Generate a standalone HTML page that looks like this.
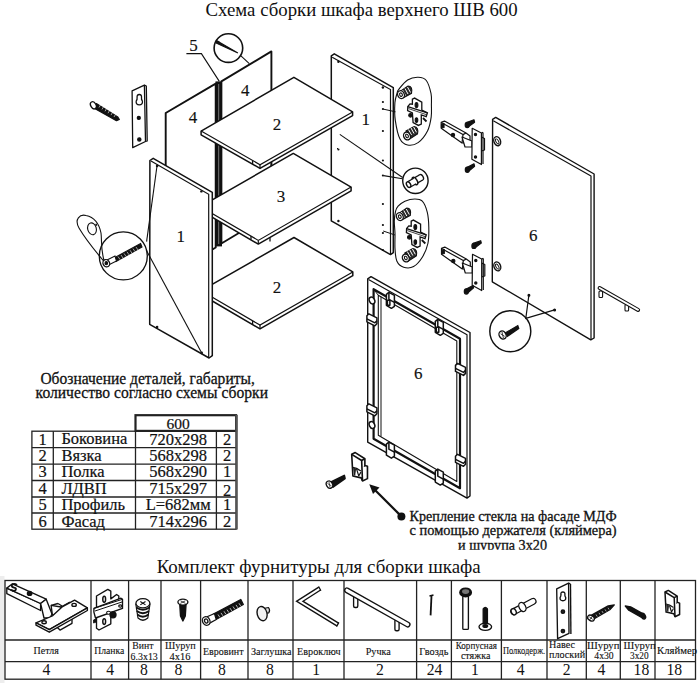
<!DOCTYPE html>
<html><head><meta charset="utf-8">
<style>
html,body{margin:0;padding:0;background:#fff;}
body{width:700px;height:683px;overflow:hidden;position:relative;}
svg{position:absolute;left:0;top:0;}
text{font-family:"Liberation Serif",serif;fill:#111;}
.s{fill:#fff;stroke:#111;stroke-width:1.5;stroke-linejoin:round;}
.l{fill:none;stroke:#111;stroke-width:1.2;}
.t{fill:none;stroke:#222;stroke-width:1.3;}
</style></head><body>
<svg width="700" height="683" viewBox="0 0 700 683">
<rect x="0" y="0" width="700" height="683" fill="#fff"/>
<rect x="0" y="576" width="4.5" height="107" fill="#ededed"/>
<!-- Title -->
<text x="205.6" y="15.8" font-size="18.8" textLength="312" lengthAdjust="spacingAndGlyphs">Схема сборки шкафа верхнего ШВ 600</text>

<!-- ============ CABINET ============ -->
<g>
<!-- back panel 4 left -->
<polygon class="s" points="165.7,113 215.7,83.6 215.7,247.5 165.7,277.5" style="stroke-width:1.9"/>
<!-- back panel 4 right -->
<polygon class="s" points="221.4,81.4 271.4,51.4 271.4,213.5 221.4,243.5" style="stroke-width:1.9"/>
<!-- profile 5 -->
<rect x="215.5" y="81.4" width="6.5" height="165" fill="#111"/>
<line x1="218.7" y1="84" x2="218.7" y2="244" stroke="#777" stroke-width="1"/>
<!-- right side panel 1 -->
<polygon class="s" points="331.3,55.8 334.3,53.8 393.3,87.7 393.3,252.6 390.5,254.6 331.3,220.8"/>
<polyline class="l" points="332.2,57.2 390.5,89.6 390.5,254"/>
<!-- shelf 2 top -->
<polygon class="s" points="201.1,131.1 293.9,77.3 352.6,111.9 352.6,115.6 260.0,168.4 201.1,134.8"/>
<polyline class="l" points="201.1,131.1 260.0,164.7 352.6,111.9"/>
<line class="l" x1="260" y1="164.7" x2="260" y2="168.39999999999998"/>
<!-- shelf 3 -->
<polygon class="s" points="200.5,206.7 293.3,153.4 351.1,187.1 351.1,190.8 258.3,244.1 200.5,210.4"/>
<polyline class="l" points="200.5,206.7 258.3,240.4 351.1,187.1"/>
<line class="l" x1="258.3" y1="240.4" x2="258.3" y2="244.1"/>
<!-- shelf 2 bottom -->
<polygon class="s" points="201.2,290.7 294.0,237.5 352.8,271.9 352.8,275.7 260.0,328.9 201.2,294.5"/>
<polyline class="l" points="201.2,290.7 260.0,325.1 352.8,271.9"/>
<line class="l" x1="260" y1="325.1" x2="260" y2="328.90000000000003"/>
<!-- left side panel 1 -->
<polygon class="s" points="149.9,160.5 153.2,158.3 212.3,192.3 212.3,355.7 209.1,358 149.7,324.3"/>
<polyline class="l" points="151,161 208.7,194.3 208.7,357.5"/>
</g>

<g fill="#111">
<circle cx="157.1" cy="166" r="1.3"/><circle cx="157.1" cy="327.1" r="1.3"/><circle cx="201.7" cy="352.9" r="1.3"/><circle cx="201.4" cy="191.4" r="1.2"/>
</g>
<g stroke="#111" stroke-width="1.3">
<line x1="252.6" y1="160.5" x2="252.6" y2="164.2"/><line x1="271.4" y1="162" x2="271.4" y2="166"/>
<line x1="251" y1="236" x2="251" y2="239.5"/><line x1="270" y1="237.5" x2="270" y2="241.5"/>
<line x1="252.6" y1="320.9" x2="252.6" y2="324.6"/>
</g>
<!-- ===== extra drawing ===== -->
<g stroke="#111" stroke-width="1.4" stroke-linejoin="round" fill="#fff">
<!-- door 6 -->
<polygon points="492.6,119.3 495.7,117.4 594.1,174 594.1,338 590.8,339.8 492.3,281.8"/>
<polyline points="493.3,120.8 591,176.1 591,339.5" fill="none" stroke-width="1.2"/>
<ellipse cx="497.2" cy="141.2" rx="3.3" ry="4.6" transform="rotate(-20 497.2 141.2)"/>
<ellipse cx="497.2" cy="141.4" rx="1.3" ry="2.8" transform="rotate(-30 497.2 141.4)" stroke-width="0.9"/>
<ellipse cx="497.3" cy="266.4" rx="3.3" ry="4.6" transform="rotate(-20 497.3 266.4)"/>
<ellipse cx="497.3" cy="266.6" rx="1.3" ry="2.8" transform="rotate(-30 497.3 266.6)" stroke-width="0.9"/>
</g>

<!-- door handle -->
<g stroke="#111" fill="#fff" stroke-width="1.1">
<rect x="599" y="291" width="3.6" height="6.5" rx="1"/>
<rect x="625" y="304.5" width="3.6" height="6.5" rx="1"/>
<path d="M599.6,288 L638.1,309.9" fill="none" stroke="#111" stroke-width="4" stroke-linecap="round"/>
<path d="M599.6,288 L638.1,309.9" fill="none" stroke="#fff" stroke-width="1.8" stroke-linecap="round"/>
</g>

<!-- door screw magnifier -->
<g stroke="#111" fill="none" stroke-width="1.2">
<circle cx="510.3" cy="331.2" r="20.5" fill="#fff" stroke-width="1.45"/>
<polyline points="528.9,295.2 525.8,318.3 554.6,309.9"/>
<circle cx="528.9" cy="295.2" r="0.9" fill="#111"/>
<circle cx="554.6" cy="309.9" r="0.9" fill="#111"/>
<polygon points="505.5,332.8 517.8,325.6 518.8,328.4 507.5,336.3" fill="#111"/>
<ellipse cx="502.6" cy="335" rx="3.4" ry="4.2" transform="rotate(-30 502.6 335)" fill="#fff" stroke-width="1.4"/>
<path d="M500.6,333.8 l4,2.5 M502,332 l1.4,6" stroke-width="0.8"/>
</g>

<!-- hinges -->
<g stroke="#111" stroke-width="1.2" stroke-linejoin="round" fill="#fff">
<polygon points="441.2,122.4 444.5,121.1 466,133 470,136 470,143 462,143 441.2,128.3"/>
<polyline points="441.2,122.4 463,134.6 466,133" fill="none"/>
<line x1="463" y1="134.6" x2="462" y2="143"/>
<polygon points="441.5,124.5 444,123.5 444,127.5 441.5,128" fill="#111"/>
<circle cx="453" cy="135" r="1.6" fill="#111"/>
<polygon points="462,137 472,141 472,147 465,147"/>
<polygon points="481.4,137 484.5,138.5 484.5,150 481.4,151"/>
<polygon points="472.2,128.3 481.4,133 481.4,164.6 471.9,159.3"/>
<line x1="481.4" y1="133" x2="483" y2="132.4"/>
<line x1="483" y1="132.4" x2="483" y2="164"/>
<circle cx="475.5" cy="134.5" r="1.1" fill="#111"/>
<circle cx="475.5" cy="157" r="1.1" fill="#111"/>
<polygon points="466.5,122.5 474,119.8 474.6,122.2 468,127" fill="#111"/>
<ellipse cx="467.2" cy="125" rx="2" ry="2.6" fill="#111"/>
<polygon points="466.8,167.6 474,163.8 474.6,166.2 468.3,171.5" fill="#111"/>
<ellipse cx="467.3" cy="169.8" rx="2" ry="2.6" fill="#111"/>
</g>
<g transform="translate(0.3,126)"><g stroke="#111" stroke-width="1.2" stroke-linejoin="round" fill="#fff">
<polygon points="441.2,122.4 444.5,121.1 466,133 470,136 470,143 462,143 441.2,128.3"/>
<polyline points="441.2,122.4 463,134.6 466,133" fill="none"/>
<line x1="463" y1="134.6" x2="462" y2="143"/>
<polygon points="441.5,124.5 444,123.5 444,127.5 441.5,128" fill="#111"/>
<circle cx="453" cy="135" r="1.6" fill="#111"/>
<polygon points="462,137 472,141 472,147 465,147"/>
<polygon points="481.4,137 484.5,138.5 484.5,150 481.4,151"/>
<polygon points="472.2,128.3 481.4,133 481.4,164.6 471.9,159.3"/>
<line x1="481.4" y1="133" x2="483" y2="132.4"/>
<line x1="483" y1="132.4" x2="483" y2="164"/>
<circle cx="475.5" cy="134.5" r="1.1" fill="#111"/>
<circle cx="475.5" cy="157" r="1.1" fill="#111"/>
<g transform="translate(6.4,-5.1)"><polygon points="466.5,122.5 474,119.8 474.6,122.2 468,127" fill="#111"/>
<ellipse cx="467.2" cy="125" rx="2" ry="2.6" fill="#111"/></g>
<g transform="translate(-1.3,-4.3)"><polygon points="466.8,167.6 474,163.8 474.6,166.2 468.3,171.5" fill="#111"/>
<ellipse cx="467.3" cy="169.8" rx="2" ry="2.6" fill="#111"/></g>
</g></g>

<!-- blobs -->
<g stroke="#111" stroke-width="1.1" fill="none">
<path d="M398.8,89.3 C400.6,87.1 404.4,82.0 407.6,80.0 C410.8,78.0 415.0,77.2 418.1,77.3 C421.2,77.4 424.2,77.8 426.3,80.5 C428.4,83.2 430.1,89.3 431.0,93.4 C431.9,97.5 431.4,101.1 431.4,105.0 C431.4,108.9 431.8,112.5 431.2,116.8 C430.6,121.1 429.7,126.6 427.5,130.9 C425.3,135.2 421.4,140.2 418.1,142.6 C414.8,144.9 410.6,145.6 407.6,145.0 C404.6,144.4 402.1,143.2 400.0,139.1 C397.9,135.0 396.2,126.5 395.3,120.4 C394.4,114.4 394.6,107.3 394.9,102.8 C395.2,98.3 396.4,95.7 397.0,93.4 C397.6,91.2 397.0,91.5 398.8,89.3 Z" fill="#fff"/>
<!-- dowel cyl 1 -->
<path d="M400,91.5 L408,86 Q413,86 411.5,93.5 L403,98 Z" fill="#2a2a2a"/>
<path d="M402.5,90 l3,5.5 M405,88.5 l3,5.5 M407.5,87 l3,5.5" stroke="#fff" stroke-width="1"/>
<ellipse cx="401" cy="94.6" rx="3.3" ry="4" transform="rotate(-25 401 94.6)" fill="#fff" stroke-width="1.3"/>
<ellipse cx="401" cy="94.6" rx="1.3" ry="1.8" transform="rotate(-25 401 94.6)"/>
<!-- mount plate -->
<polygon points="412.4,99.1 414.6,98.1 421.8,102.2 421.8,110 427.4,112.9 426.2,116.7 421.3,115 421.3,124 418.4,125.4 413.1,122.5 412.4,113 407.6,110.5 407.8,106.6 410,103.9 412.4,104.2" fill="#fff" stroke-width="1.3"/>
<line x1="407.8" y1="106.6" x2="427.4" y2="112.9" stroke-width="1.2"/>
<line x1="408.5" y1="108.6" x2="426.8" y2="114.8" stroke-width="0.8"/>
<ellipse cx="416.5" cy="105.1" rx="1.4" ry="2.6" fill="#111"/>
<ellipse cx="416.5" cy="120.1" rx="1.3" ry="2.3" fill="#111"/>
<circle cx="410.5" cy="115.3" r="1.8" fill="#111"/>
<line x1="423" y1="118" x2="426.5" y2="121.5" stroke-width="1.8"/>
<!-- dowel cyl 2 -->
<path d="M406,131 L414,126.5 Q419,127 417.5,134 L409,139.5 Z" fill="#2a2a2a"/>
<path d="M408.5,129.5 l3,5.5 M411,128 l3,5.5 M413.5,126.8 l3,5.5" stroke="#fff" stroke-width="1"/>
<ellipse cx="407" cy="136" rx="3.3" ry="4" transform="rotate(-25 407 136)" fill="#fff" stroke-width="1.3"/>
<ellipse cx="407" cy="136" rx="1.3" ry="1.8" transform="rotate(-25 407 136)"/>
</g>
<g transform="translate(-1.2,122)"><g stroke="#111" stroke-width="1.1" fill="none">
<path d="M399.3,84.2 C400.9,82.5 403.3,80.4 406.1,79.2 C408.9,78.0 413.2,77.0 416.1,77.0 C419.0,77.0 421.4,77.0 423.5,79.2 C425.6,81.4 427.4,86.0 428.5,90.4 C429.6,94.8 429.9,100.1 430.0,105.3 C430.1,110.5 430.2,116.5 429.1,121.5 C428.0,126.5 425.9,131.4 423.5,135.2 C421.1,139.0 417.9,142.8 414.8,144.5 C411.7,146.2 407.7,146.1 404.9,145.2 C402.1,144.3 399.4,142.0 398.0,138.9 C396.6,135.8 396.5,131.1 396.2,126.5 C395.9,122.0 396.3,116.2 396.2,111.6 C396.1,107.0 395.4,102.8 395.5,99.1 C395.6,95.4 396.2,91.7 396.8,89.2 C397.4,86.7 397.8,85.9 399.3,84.2 Z" fill="#fff"/>
<!-- dowel cyl 1 -->
<path d="M400,91.5 L408,86 Q413,86 411.5,93.5 L403,98 Z" fill="#2a2a2a"/>
<path d="M402.5,90 l3,5.5 M405,88.5 l3,5.5 M407.5,87 l3,5.5" stroke="#fff" stroke-width="1"/>
<ellipse cx="401" cy="94.6" rx="3.3" ry="4" transform="rotate(-25 401 94.6)" fill="#fff" stroke-width="1.3"/>
<ellipse cx="401" cy="94.6" rx="1.3" ry="1.8" transform="rotate(-25 401 94.6)"/>
<!-- mount plate -->
<polygon points="412.4,99.1 414.6,98.1 421.8,102.2 421.8,110 427.4,112.9 426.2,116.7 421.3,115 421.3,124 418.4,125.4 413.1,122.5 412.4,113 407.6,110.5 407.8,106.6 410,103.9 412.4,104.2" fill="#fff" stroke-width="1.3"/>
<line x1="407.8" y1="106.6" x2="427.4" y2="112.9" stroke-width="1.2"/>
<line x1="408.5" y1="108.6" x2="426.8" y2="114.8" stroke-width="0.8"/>
<ellipse cx="416.5" cy="105.1" rx="1.4" ry="2.6" fill="#111"/>
<ellipse cx="416.5" cy="120.1" rx="1.3" ry="2.3" fill="#111"/>
<circle cx="410.5" cy="115.3" r="1.8" fill="#111"/>
<line x1="423" y1="118" x2="426.5" y2="121.5" stroke-width="1.8"/>
<!-- dowel cyl 2 -->
<path d="M406,131 L414,126.5 Q419,127 417.5,134 L409,139.5 Z" fill="#2a2a2a"/>
<path d="M408.5,129.5 l3,5.5 M411,128 l3,5.5 M413.5,126.8 l3,5.5" stroke="#fff" stroke-width="1"/>
<ellipse cx="407" cy="136" rx="3.3" ry="4" transform="rotate(-25 407 136)" fill="#fff" stroke-width="1.3"/>
<ellipse cx="407" cy="136" rx="1.3" ry="1.8" transform="rotate(-25 407 136)"/>
</g></g>

<!-- dowel magnifier -->
<g stroke="#111" stroke-width="1.1" fill="none">
<polyline points="383.6,175.6 402.4,178.7"/>
<polyline points="339.8,134.4 402.6,177.5"/>
<circle cx="415.4" cy="180.8" r="12.7" fill="#fff" stroke-width="1.4"/>
<ellipse cx="421.2" cy="177.4" rx="2" ry="3" transform="rotate(-30.3 421.2 177.4)" fill="#fff" stroke-width="1.3"/>
<polygon points="413.5,178.4 419.7,174.8 421.2,177.4 422.7,180 416.5,183.6" fill="#fff" stroke="none"/>
<polyline points="413.5,178.4 419.7,174.8" stroke-width="1.3"/>
<polyline points="416.5,183.6 422.7,180" stroke-width="1.3"/>
<ellipse cx="415" cy="181" rx="2" ry="4.1" transform="rotate(-30.3 415 181)" fill="#fff" stroke-width="1.5"/>
<polygon points="407.1,182 413.5,178.4 416.5,183.6 410.1,187.2" fill="#fff" stroke="none"/>
<polyline points="407.1,182 413.8,178.2" stroke-width="1.3"/>
<polyline points="410.1,187.2 416.2,183.8" stroke-width="1.3"/>
<ellipse cx="408.6" cy="184.6" rx="1.9" ry="3" transform="rotate(-30.3 408.6 184.6)" fill="#fff" stroke-width="1.4"/>
</g>
<!-- leader lines right panel -->
<g stroke="#111" stroke-width="1" fill="none">
<line x1="383.2" y1="109.1" x2="395.5" y2="111.8"/>
<line x1="383.2" y1="231" x2="395" y2="235"/>
<line x1="338" y1="148" x2="337" y2="149"/>
</g>
<!-- holes right panel -->
<g fill="#111">
<circle cx="382.9" cy="87.5" r="1.2"/><circle cx="382.9" cy="102" r="1.1"/><circle cx="382.9" cy="109" r="1.1"/>
<circle cx="382.9" cy="131" r="1.1"/><circle cx="382.9" cy="160.5" r="1.1"/><circle cx="382.9" cy="175.5" r="1.1"/>
<circle cx="382.9" cy="204" r="1.1"/><circle cx="382.9" cy="225" r="1.1"/><circle cx="382.9" cy="233" r="1.1"/><circle cx="382.9" cy="250" r="1.1"/>
<circle cx="338.4" cy="61.7" r="1.2"/><circle cx="338.4" cy="149.5" r="1.1"/><circle cx="338.4" cy="221" r="1.2"/>
</g>

<!-- ===== glass frame facade ===== -->
<g stroke="#111" stroke-linejoin="round" fill="none">
<polygon points="367.7,278.8 371,276.6 470,332.5 470,496 467,498.1 367.7,442.2" fill="#fff" stroke-width="1.4"/>
<polyline points="368.5,279.4 467,334.7 467,498" stroke-width="1.2"/>
<!-- groove outer dark -->
<polygon points="373.6,289.2 460,338.7 460,488.3 373.6,438.7" stroke-width="2.2"/>
<!-- groove inner light -->
<polygon points="378.3,295.3 456.8,340.9 456.8,481.5 378.3,435.3" stroke-width="1.1"/>
<polyline points="381,296.8 381,436.5" stroke-width="1"/>
<polyline points="373.6,289.2 378.3,295.3" stroke-width="1"/>
</g>
<g stroke="#111" stroke-width="1.1" fill="#fff" stroke-linejoin="round">
</g>
<g stroke="#111" stroke-width="1.5" fill="#fff" stroke-linejoin="round">
<!-- top clips -->
<g transform="translate(390.4,300.3)"><polygon points="-4,-6 -1.5,-8 4,-5 4,6 1,8 -4,5"/><polyline points="-1.5,-8 -1.5,-1 4,2" fill="none"/><rect x="-3" y="0" width="2.5" height="5" fill="#fff"/></g>
<g transform="translate(439.3,327.3)"><polygon points="-4,-6 -1.5,-8 4,-5 4,6 1,8 -4,5"/><polyline points="-1.5,-8 -1.5,-1 4,2" fill="none"/><rect x="-3" y="0" width="2.5" height="5" fill="#fff"/></g>
<!-- bottom clips -->
<g transform="translate(390.4,450.2)"><polygon points="-4,-6 -1.5,-8 4,-5 4,6 1,8 -4,5"/><polyline points="-1.5,-8 -1.5,-1 4,2" fill="none"/></g>
<g transform="translate(439.3,477.1)"><polygon points="-4,-6 -1.5,-8 4,-5 4,6 1,8 -4,5"/><polyline points="-1.5,-8 -1.5,-1 4,2" fill="none"/></g>
<!-- left clips -->
<g transform="translate(370.9,319.8)"><polygon points="-4,-4 -2,-6 6,-2 6,4 4,6 -4,2"/><polyline points="-4,-1 4,3 6,1" fill="none"/></g>
<g transform="translate(370.9,409.8)"><polygon points="-4,-4 -2,-6 6,-2 6,4 4,6 -4,2"/><polyline points="-4,-1 4,3 6,1" fill="none"/></g>
<!-- right clips -->
<g transform="translate(459.5,369.4)"><polygon points="-4,-4 -2,-6 6,-2 6,4 4,6 -4,2"/><polyline points="-4,-1 4,3 6,1" fill="none"/></g>
<g transform="translate(459.5,460.3)"><polygon points="-4,-4 -2,-6 6,-2 6,4 4,6 -4,2"/><polyline points="-4,-1 4,3 6,1" fill="none"/></g>
<ellipse cx="372" cy="300.5" rx="2.6" ry="3.6" transform="rotate(-25 372 300.5)"/>
<ellipse cx="372" cy="425" rx="2.6" ry="3.6" transform="rotate(-25 372 425)"/>
</g>

<!-- klaymer + screw near frame -->
<g stroke="#111" stroke-width="1.7" fill="#fff" stroke-linejoin="round">
<g transform="translate(351.7,452.6) scale(1.08) translate(-665,-590.4)"><g stroke-width="1.5">
<polygon points="665,592 668.3,590.4 677.2,596.1 677.2,602.3 679.6,603.1 679.6,614.5 675,616.7 673.8,613.8 666.1,612.1"/>
<polyline points="665,592 674.2,597.7 675,616.7" fill="none"/>
<line x1="674.2" y1="597.7" x2="677.2" y2="596.1"/>
<line x1="677.2" y1="602.3" x2="676.5" y2="603.5" stroke-width="1"/>
<polyline points="666,604 669.5,605 673.5,607.5" fill="none" stroke-width="1.2"/>
<polygon points="666.8,605 668.6,605.5 667.8,611.5" fill="#333" stroke-width="0.8"/>
<polyline points="669.5,605.5 671.5,612 673.5,608.5" fill="none" stroke-width="1.1"/>
</g></g>
<polygon points="331,482 344.3,475.5 345,478.5 333,487" fill="#111"/>
<ellipse cx="329.5" cy="484.6" rx="3" ry="3.8" transform="rotate(-30 329.5 484.6)" fill="#fff" stroke-width="1.3"/>
<path d="M327.5,483.5 l4,2.4 M329,482 l1,5.5" fill="none" stroke-width="0.7"/>
</g>

<!-- left side hardware: hanging plate + screw -->
<g stroke="#111" stroke-width="1.3" fill="#fff" stroke-linejoin="round">
<polygon points="132.1,90.8 144.4,85.1 145.5,141.5 132.7,147.6"/>
<polyline points="144.4,85.1 146.3,86 147.2,141 145.5,141.5" fill="none"/>
<path d="M139.3,94.5 q-2.5,0 -2.2,3 q0.3,1.8 -0.9,3.5 q-0.5,3.8 3.1,3.8 q3.6,0 3.1,-3.8 q-1.2,-1.7 -0.9,-3.5 q0.3,-3 -2.2,-3 Z" fill="#fff"/>
<circle cx="138.8" cy="117.9" r="1.5" fill="#111"/>
<circle cx="139.3" cy="139.4" r="1.6" fill="#111"/>
<polygon points="96.3,103.6 117.8,117 119.3,119.5 116.5,120.7 94.7,108.4" fill="#111"/>
<path d="M99,107.5 l1.6,-2.8 M102,109.4 l1.6,-2.8 M105,111.3 l1.6,-2.8 M108,113.2 l1.6,-2.8 M111,115.1 l1.6,-2.8 M114,117 l1.4,-2.4" stroke="#fff" stroke-width="0.6" fill="none"/>
<ellipse cx="93.4" cy="105.3" rx="2.6" ry="3.8" transform="rotate(-30 93.4 105.3)" fill="#fff" stroke-width="1.4"/>
</g>

<!-- left magnifier & loop -->
<g stroke="#111" stroke-width="1.1" fill="none">
<path d="M104.5,262 C96,252 86,240 79,228 C74,219 80,214 86,215.5 C93,217 99,223 101,233 C102,240 100.5,250 104.5,262"/>
<ellipse cx="92" cy="228.8" rx="4.3" ry="6" transform="rotate(-15 92 228.8)"/>
<line x1="95.5" y1="225" x2="97" y2="224.5" stroke-width="2"/>
<circle cx="123.3" cy="255.9" r="24" stroke-width="1.35"/>
<line x1="157" y1="166" x2="146.6" y2="241.6"/>
<line x1="146.2" y1="250" x2="201.7" y2="352.9"/>
<polygon points="114,258 140.6,243.5 142,247 116,261.5" fill="#111"/>
<path d="M118,256.5 l2,3 M121,255 l2,3 M124,253.4 l2,3 M127,251.8 l2,3 M130,250.2 l2,3 M133,248.6 l2,3 M136,247 l2,3" stroke="#fff" stroke-width="0.6"/>
<polygon points="107,260 115,256 116.5,261 108.5,265" fill="#fff"/>
<ellipse cx="106.3" cy="263.2" rx="3.2" ry="3.8" transform="rotate(-30 106.3 263.2)" fill="#fff" stroke-width="1.3"/>
<ellipse cx="106.3" cy="263.2" rx="1.3" ry="1.6" fill="#111"/>
</g>

<!-- 5 leader & nail magnifier -->
<g stroke="#111" stroke-width="1.1" fill="none">
<polyline points="186.4,53.6 201.4,53.6 219.3,81.4"/>
<circle cx="228.4" cy="48.1" r="14.3" fill="#fff" stroke-width="1.6"/>
<line x1="240.7" y1="55.7" x2="249.3" y2="63.6"/>
<polygon points="216.4,40.6 237.9,52.9 216,43" fill="#111"/>
<line x1="217" y1="41.5" x2="219" y2="42.6" stroke-width="2.4"/>
</g>

<!-- labels -->
<g font-size="17" text-anchor="middle" style="stroke:#111;stroke-width:0.15">
<text x="193" y="122.9">4</text>
<text x="245.3" y="96.1">4</text>
<text x="276.9" y="129.7">2</text>
<text x="281" y="202">3</text>
<text x="277.1" y="292.9">2</text>
<text x="180.8" y="241.7">1</text>
<text x="365.8" y="125.4">1</text>
<text x="418.3" y="378.9">6</text>
<text x="533.3" y="241.4">6</text>
<text x="193.4" y="51.1">5</text>
</g>

<!-- ============ TEXT BLOCK: parts ============ -->
<text x="40.4" y="384.2" font-size="17" style="stroke:#111;stroke-width:0.3" textLength="214.4" lengthAdjust="spacingAndGlyphs">Обозначение деталей, габариты,</text>
<text x="35.6" y="397.8" font-size="17" style="stroke:#111;stroke-width:0.3" textLength="232.4" lengthAdjust="spacingAndGlyphs">количество согласно схемы сборки</text>

<g class="t">
<rect x="135.5" y="415.2" width="100.6" height="15.7" stroke-width="2.2"/>
<rect x="31.9" y="431.2" width="204.2" height="98" />
<line x1="31.9" y1="447.7" x2="236" y2="447.7"/>
<line x1="31.9" y1="464.1" x2="236" y2="464.1"/>
<line x1="31.9" y1="480.5" x2="236" y2="480.5"/>
<line x1="31.9" y1="497" x2="236" y2="497"/>
<line x1="31.9" y1="513" x2="236" y2="513"/>
<line x1="53.3" y1="431.2" x2="53.3" y2="529.2"/>
<line x1="135.5" y1="431.2" x2="135.5" y2="529.2"/>
<line x1="216.4" y1="431.2" x2="216.4" y2="529.2"/>
<line x1="236.6" y1="415" x2="236.6" y2="529.5" stroke="#555" stroke-width="2.4"/>
</g>
<g font-size="16.5" style="stroke:#111;stroke-width:0.2">
<text x="178" y="428.6" text-anchor="middle" font-size="15.5">600</text>
<text x="42.5" y="444.5" text-anchor="middle">1</text>
<text x="42.5" y="461" text-anchor="middle">2</text>
<text x="42.5" y="477.4" text-anchor="middle">3</text>
<text x="42.5" y="493.8" text-anchor="middle">4</text>
<text x="42.5" y="510.3" text-anchor="middle">5</text>
<text x="42.5" y="526.5" text-anchor="middle">6</text>
<text x="61.4" y="444.4">Боковина</text>
<text x="61.4" y="461">Вязка</text>
<text x="61.4" y="477.4">Полка</text>
<text x="61.4" y="493.8">ЛДВП</text>
<text x="61.4" y="510.3">Профиль</text>
<text x="61.4" y="526.5">Фасад</text>
<text x="178.2" y="444.5" text-anchor="middle">720x298</text>
<text x="178.2" y="461" text-anchor="middle">568x298</text>
<text x="178.2" y="477.4" text-anchor="middle">568x290</text>
<text x="178.2" y="493.8" text-anchor="middle">715x297</text>
<text x="178.2" y="510.3" text-anchor="middle">L=682мм</text>
<text x="178.2" y="526.5" text-anchor="middle">714x296</text>
<text x="227.2" y="444.5" text-anchor="middle">2</text>
<text x="227.2" y="461" text-anchor="middle">2</text>
<text x="227.2" y="477.4" text-anchor="middle">1</text>
<text x="227.2" y="495.5" text-anchor="middle">2</text>
<text x="227.2" y="510.3" text-anchor="middle">1</text>
<text x="227.2" y="526.5" text-anchor="middle">2</text>
</g>

<!-- annotation -->
<line x1="401.4" y1="516.4" x2="374" y2="489" stroke="#111" stroke-width="2.2"/>
<polygon points="369.3,484.3 379.5,487.5 373,494" fill="#111"/>
<circle cx="401.4" cy="516.4" r="4" fill="#111"/>
<text x="409.6" y="521" font-size="14.8" style="stroke:#111;stroke-width:0.3" textLength="207" lengthAdjust="spacingAndGlyphs">Крепление стекла на фасаде МДФ</text>
<text x="409.6" y="535" font-size="14.8" style="stroke:#111;stroke-width:0.3" textLength="207" lengthAdjust="spacingAndGlyphs">с помощью держателя (кляймера)</text>
<svg x="0" y="0" width="700" height="549.7" overflow="hidden"><text x="458" y="549.5" font-size="14.8" style="stroke:#111;stroke-width:0.3" textLength="89" lengthAdjust="spacingAndGlyphs">и шурупа 3x20</text></svg>

<!-- ============ HARDWARE TABLE ============ -->
<text x="156.7" y="572.6" font-size="18.9" textLength="324" lengthAdjust="spacingAndGlyphs">Комплект фурнитуры для сборки шкафа</text>
<g class="t">
<rect x="5" y="580.5" width="690.5" height="98.7"/>
<line x1="5" y1="640" x2="695.5" y2="640"/>
<line x1="5" y1="661.7" x2="695.5" y2="661.7"/>
<line x1="91" y1="580.5" x2="91" y2="679.2"/>
<line x1="128.6" y1="580.5" x2="128.6" y2="679.2"/>
<line x1="161" y1="580.5" x2="161" y2="679.2"/>
<line x1="200.6" y1="580.5" x2="200.6" y2="679.2"/>
<line x1="248" y1="580.5" x2="248" y2="679.2"/>
<line x1="293" y1="580.5" x2="293" y2="679.2"/>
<line x1="344" y1="580.5" x2="344" y2="679.2"/>
<line x1="416.6" y1="580.5" x2="416.6" y2="679.2"/>
<line x1="451.4" y1="580.5" x2="451.4" y2="679.2"/>
<line x1="501.4" y1="580.5" x2="501.4" y2="679.2"/>
<line x1="547" y1="580.5" x2="547" y2="679.2"/>
<line x1="586.3" y1="580.5" x2="586.3" y2="679.2"/>
<line x1="620.3" y1="580.5" x2="620.3" y2="679.2"/>
<line x1="655" y1="580.5" x2="655" y2="679.2"/>
</g>
<g font-size="10.5" font-weight="normal" style="stroke:#111;stroke-width:0.12">
<text x="33.5" y="654.3" textLength="25.3" lengthAdjust="spacingAndGlyphs">Петля</text>
<text x="94.2" y="654.3" textLength="30.1" lengthAdjust="spacingAndGlyphs">Планка</text>
<text x="132.3" y="649.2" textLength="21.2" lengthAdjust="spacingAndGlyphs">Винт</text>
<text x="130.6" y="660.1" textLength="27.2" lengthAdjust="spacingAndGlyphs">6.3x13</text>
<text x="164.9" y="649.1" textLength="30.9" lengthAdjust="spacingAndGlyphs">Шуруп</text>
<text x="169.5" y="659.9" textLength="20.9" lengthAdjust="spacingAndGlyphs">4x16</text>
<text x="202.9" y="654.5" textLength="40.7" lengthAdjust="spacingAndGlyphs">Евровинт</text>
<text x="250.9" y="654.5" textLength="40.7" lengthAdjust="spacingAndGlyphs">Заглушка</text>
<text x="297.1" y="654.5" textLength="43.4" lengthAdjust="spacingAndGlyphs">Евроключ</text>
<text x="365.7" y="654.5" textLength="25.2" lengthAdjust="spacingAndGlyphs">Ручка</text>
<text x="419.2" y="654.5" textLength="29.3" lengthAdjust="spacingAndGlyphs">Гвоздь</text>
<text x="455.7" y="648.9" textLength="41.2" lengthAdjust="spacingAndGlyphs">Корпусная</text>
<text x="460.9" y="658.6" textLength="29.5" lengthAdjust="spacingAndGlyphs">стяжка</text>
<text x="502.9" y="653.7" textLength="42.2" lengthAdjust="spacingAndGlyphs">Полкодерж.</text>
<text x="549.1" y="648.0" textLength="25.8" lengthAdjust="spacingAndGlyphs">Навес</text>
<text x="549.1" y="658.3" textLength="36.0" lengthAdjust="spacingAndGlyphs">плоский</text>
<text x="587.1" y="648.9" textLength="32.3" lengthAdjust="spacingAndGlyphs">Шуруп</text>
<text x="594.3" y="659.4" textLength="19.4" lengthAdjust="spacingAndGlyphs">4x30</text>
<text x="623.4" y="648.9" textLength="32.3" lengthAdjust="spacingAndGlyphs">Шуруп</text>
<text x="630.0" y="659.4" textLength="18.6" lengthAdjust="spacingAndGlyphs">3x20</text>
<text x="657.1" y="653.7" textLength="40.0" lengthAdjust="spacingAndGlyphs">Кляймер</text>
</g>
<g font-size="15.7">
<text x="46.5" y="675.3" text-anchor="middle">4</text>
<text x="110.2" y="675.3" text-anchor="middle">4</text>
<text x="144" y="675.3" text-anchor="middle">8</text>
<text x="178.5" y="675.3" text-anchor="middle">8</text>
<text x="221.9" y="675.3" text-anchor="middle">8</text>
<text x="270" y="675.3" text-anchor="middle">8</text>
<text x="316.1" y="675.3" text-anchor="middle">1</text>
<text x="379.9" y="675.3" text-anchor="middle">2</text>
<text x="434.6" y="675.3" text-anchor="middle">24</text>
<text x="475" y="675.3" text-anchor="middle">1</text>
<text x="520.6" y="675.3" text-anchor="middle">4</text>
<text x="566.6" y="675.3" text-anchor="middle">2</text>
<text x="601.4" y="675.3" text-anchor="middle">4</text>
<text x="641.4" y="675.3" text-anchor="middle">18</text>
<text x="674.3" y="675.3" text-anchor="middle">18</text>
</g>
<!-- hardware icons -->
<g stroke="#111" stroke-width="1.35" stroke-linejoin="round" fill="#fff">
<!-- Петля hinge -->
<polygon points="6.8,588.1 40.6,603.5 40.6,610.5 6.8,593.7"/>
<polygon points="12.4,583.8 46.2,599.2 40.6,603.5 6.8,588.1"/>
<polygon points="40.6,603.5 46.2,599.2 52,614 50,618 44,618"/>
<polygon points="51.1,605.3 61,607 61,618.5 52.3,614.3"/>
<line x1="61" y1="607" x2="70" y2="602.2"/>
<line x1="51.1" y1="605.3" x2="58" y2="603.5"/>
<line x1="58" y1="603.5" x2="62" y2="606"/>
<polygon points="57.4,619 72,611 72,623.3 60,630.1 57.4,627.6"/>
<polygon points="36,622.8 52.3,616 62.6,606.6 74.6,600.1 87.4,607.9 49.3,629.7"/>
<polygon points="36,622.8 49.3,629.7 87.4,607.9 87.4,610.5 49.3,632.2 36,625.2"/>
<ellipse cx="44.1" cy="622.2" rx="2.2" ry="1.5"/>
<ellipse cx="74.1" cy="604.9" rx="2.2" ry="1.5"/>
<ellipse cx="29.6" cy="593.4" rx="2.2" ry="2" fill="#111"/>
<path d="M17,585 q-3,-2.2 -5,0 q-1,2 2,2.6 q3,0.6 1.5,2.6 q-2,1.4 -4.5,-0.4" fill="none" stroke-width="1.8"/>
<!-- Планка mounting plate -->
<polygon points="96.5,614 110.8,607 110.8,623.8 99,630 96.5,628.2"/>
<polygon points="96.5,596 107.8,589.4 110.8,591.2 110.8,598.9 116.6,594.5 118.8,596 118.8,602 96.5,612"/>
<polygon points="93.9,608.4 121,598.2 122.5,599.3 122.5,608.4 95.5,618 93.9,612.1"/>
<line x1="93.9" y1="608.4" x2="122.5" y2="599.3" stroke-width="1"/>
<line x1="95" y1="611" x2="122.5" y2="601.8" stroke-width="1"/>
<ellipse cx="104.2" cy="599.3" rx="1.4" ry="3" fill="#fff" stroke-width="1.5"/>
<ellipse cx="104.2" cy="621.6" rx="1.4" ry="2.8" fill="#fff" stroke-width="1.5"/>
<ellipse cx="120.3" cy="606" rx="1.6" ry="1.2" fill="#fff" stroke-width="1.2"/>
<ellipse cx="108.6" cy="612.8" rx="2" ry="1.5" fill="#fff" stroke-width="1.1"/>
<circle cx="113" cy="614.8" r="3" fill="#111"/>
<polygon points="93.5,620 96.5,618.5 96.5,622 93.5,623" fill="#111" stroke-width="0.8"/>
<!-- Винт 6.3x13 -->
<path d="M135.8,604 L138,618 Q142.9,622.5 147.8,618 L150,604 Z" stroke-width="1.2"/>
<path d="M136.3,607.5 Q142.9,612 149.5,607.5 M136.8,611 Q142.9,615.5 149,611 M137.3,614.5 Q142.9,619 148.5,614.5" fill="none" stroke-width="1.8"/>
<ellipse cx="142.9" cy="603.2" rx="7" ry="4.6" stroke-width="1.3"/>
<path d="M140.3,601.5 l5.2,3.4 M145.5,601.5 l-5.2,3.4" fill="none" stroke-width="1.1"/>
<!-- Шуруп 4x16 -->
<path d="M179.7,603.5 L180.5,616 L182.9,621 L185.3,616 L186.1,603.5 Z" fill="#111"/>
<ellipse cx="182.9" cy="602.1" rx="5" ry="3"/>
<path d="M180.5,600.8 l5,2.6 M185.3,600.8 l-5,2.6" fill="none" stroke-width="0.8"/>
<!-- Евровинт -->
<polygon points="213.5,614 240.8,599.5 243.3,604.5 216,619.5" fill="#111"/>
<path d="M218,614.5 l1.8,2.8 M221,612.9 l1.8,2.8 M224,611.3 l1.8,2.8 M227,609.7 l1.8,2.8 M230,608.1 l1.8,2.8 M233,606.5 l1.8,2.8 M236,604.9 l1.8,2.8 M239,603.3 l1.6,2.5" stroke="#fff" stroke-width="0.7" fill="none"/>
<polygon points="206.5,617 214.5,613.5 216.3,619.5 208.3,623.8"/>
<ellipse cx="206.2" cy="621" rx="3.7" ry="4.4" transform="rotate(-25 206.2 621)" stroke-width="1.3"/>
<ellipse cx="206.2" cy="621" rx="1.6" ry="2.1" transform="rotate(-25 206.2 621)"/>
<!-- Заглушка -->
<path d="M263.5,608.5 L268.5,607.5 Q270.5,610 268.8,612.8 L264,613.5 Z" fill="#ddd" stroke-width="1.2"/>
<ellipse cx="262.1" cy="613.6" rx="4.9" ry="7.2" transform="rotate(-15 262.1 613.6)" stroke-width="1.4" fill="#f2f2f2"/>
<!-- Евроключ -->
<path d="M319.7,588.6 L299.8,601.3 L337.7,624.5" fill="none" stroke="#111" stroke-width="4.8" stroke-linecap="butt" stroke-linejoin="miter"/>
<path d="M319.7,588.6 L299.8,601.3 L337.7,624.5" fill="none" stroke="#fff" stroke-width="2" stroke-linecap="butt" stroke-linejoin="miter"/>
<line x1="318.6" y1="586.5" x2="320.9" y2="590.7" stroke-width="1.3"/>
<line x1="336.5" y1="626.6" x2="338.9" y2="622.4" stroke-width="1.3"/>
<!-- Ручка handle -->
<rect x="353.6" y="596" width="4.2" height="11.5" rx="1.5"/>
<rect x="394.9" y="619.5" width="4.2" height="11.2" rx="1.5"/>
<path d="M347,590.3 L407.6,624.5" fill="none" stroke="#111" stroke-width="6" stroke-linecap="round"/>
<path d="M347,590.3 L407.6,624.5" fill="none" stroke="#fff" stroke-width="3.2" stroke-linecap="round"/>
<!-- Гвоздь nail -->
<line x1="431.5" y1="595.5" x2="430.6" y2="615.4" stroke-width="1.8"/>
<line x1="429.5" y1="596" x2="433.5" y2="595" stroke-width="1.4"/>
<!-- Корпусная стяжка -->
<rect x="462.8" y="596" width="5.6" height="33.4" rx="1"/>
<ellipse cx="465.6" cy="592.4" rx="5.8" ry="4.3" fill="#111"/>
<ellipse cx="465.6" cy="591.6" rx="3.6" ry="2.3" fill="#777" stroke="none"/>
<path d="M483.2,609 L483.2,625 L487.4,625 L487.4,609 Q485.3,606 483.2,609 Z" fill="#111"/>
<ellipse cx="485.3" cy="626.8" rx="6.3" ry="3.6"/>
<ellipse cx="485.3" cy="626" rx="2.3" ry="1.4" fill="#111"/>
<!-- Полкодерж. -->
<path d="M513.7,611.7 L533.1,601.4" fill="none" stroke="#111" stroke-width="7" stroke-linecap="round"/>
<path d="M513.7,611.7 L533.1,601.4" fill="none" stroke="#fff" stroke-width="4.6" stroke-linecap="round"/>
<ellipse cx="522.4" cy="607" rx="3.2" ry="4.8" transform="rotate(-28 522.4 607)"/>
<ellipse cx="513.7" cy="611.7" rx="2.4" ry="3.3" transform="rotate(-28 513.7 611.7)"/>
<!-- Навес плоский -->
<polygon points="556.7,588.9 568.6,583.1 569,633.4 557.6,638.7"/>
<line x1="568.6" y1="583.1" x2="570.5" y2="584" />
<line x1="570.5" y1="584" x2="570.9" y2="634"/>
<path d="M562.9,592 q-2.3,0 -2,2.5 q0.3,1.5 -0.8,3 q-0.4,3.2 2.8,3.2 q3.2,0 2.8,-3.2 q-1.1,-1.5 -0.8,-3 q0.3,-2.5 -2,-2.5 Z"/>
<circle cx="562.9" cy="611.7" r="1.7" fill="#222"/>
<circle cx="562.9" cy="631.1" r="1.7" fill="#222"/>
<!-- Шуруп 4x30 -->
<polygon points="591.6,615.2 608.2,605.9 614.3,604.9 610.2,609.4 593.8,619" fill="#111"/>
<path d="M596,614.5 l1.2,2 M599,612.8 l1.2,2 M602,611.1 l1.2,2 M605,609.4 l1.2,2 M608,607.7 l1,1.8" stroke="#fff" stroke-width="0.6" fill="none"/>
<ellipse cx="591" cy="618.1" rx="2.6" ry="3.6" transform="rotate(-60 591 618.1)" stroke-width="1.3"/>
<path d="M589.3,616.8 l3.4,2.6 M592.3,616.3 l-2.6,3.6" fill="none" stroke-width="0.8"/>
<!-- Шуруп 3x20 -->
<polygon points="625.3,606 628.8,610.2 641.6,617.5 643.6,614.1 630.6,606.8" fill="#111"/>
<ellipse cx="643.3" cy="616.2" rx="2" ry="3" transform="rotate(-30 643.3 616.2)" fill="#111"/>
<!-- Кляймер -->
<g stroke-width="1.5">
<polygon points="665,592 668.3,590.4 677.2,596.1 677.2,602.3 679.6,603.1 679.6,614.5 675,616.7 673.8,613.8 666.1,612.1"/>
<polyline points="665,592 674.2,597.7 675,616.7" fill="none"/>
<line x1="674.2" y1="597.7" x2="677.2" y2="596.1"/>
<line x1="677.2" y1="602.3" x2="676.5" y2="603.5" stroke-width="1"/>
<polyline points="666,604 669.5,605 673.5,607.5" fill="none" stroke-width="1.2"/>
<polygon points="666.8,605 668.6,605.5 667.8,611.5" fill="#333" stroke-width="0.8"/>
<polyline points="669.5,605.5 671.5,612 673.5,608.5" fill="none" stroke-width="1.1"/>
</g>
</g>

</svg>
</body></html>
